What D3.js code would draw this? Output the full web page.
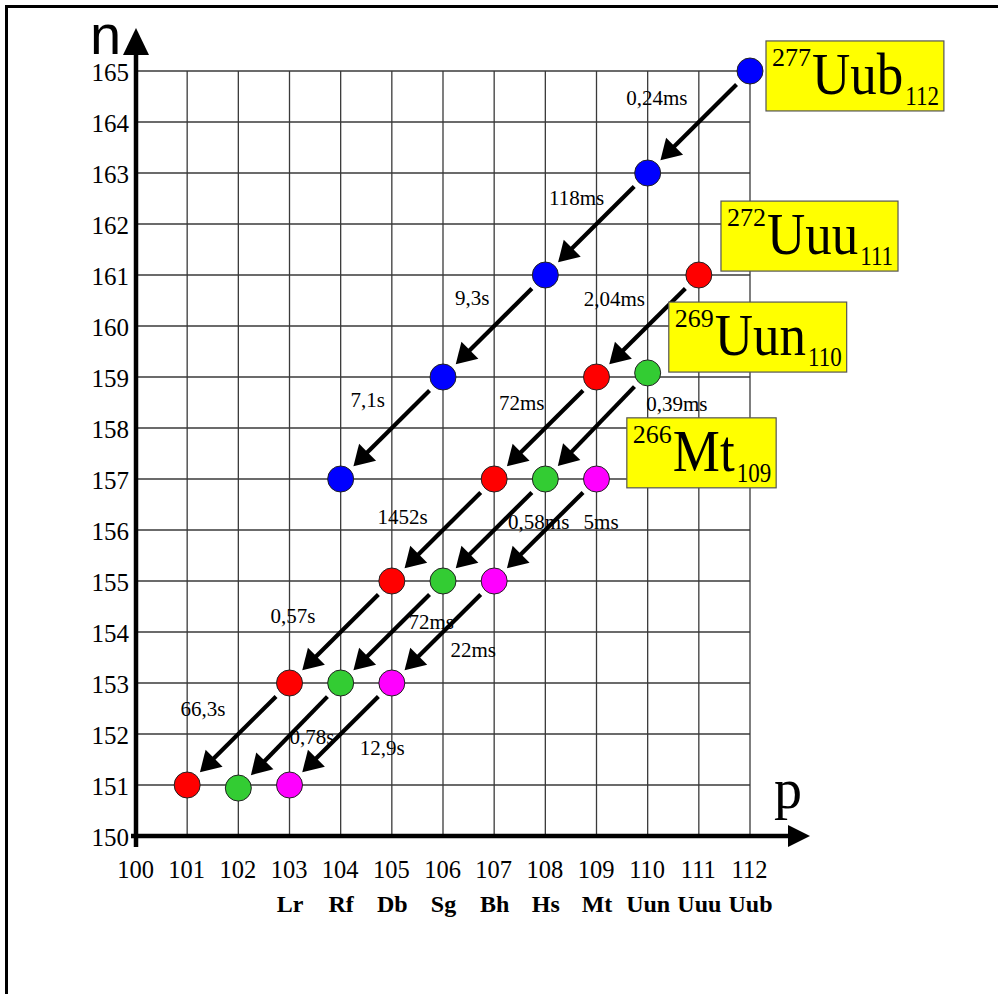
<!DOCTYPE html>
<html><head><meta charset="utf-8">
<script src="https://cdn.jsdelivr.net/npm/d3@7"></script>
<style>
html,body{margin:0;padding:0;background:#fff;}
svg{display:block;}
text{font-family:"Liberation Serif","Times New Roman",serif;fill:#000;}
</style></head>
<body>
<svg id="chart" width="998" height="994"></svg>
<script>
// ---- data ----
const pTicks = [100,101,102,103,104,105,106,107,108,109,110,111,112];
const nTicks = [150,151,152,153,154,155,156,157,158,159,160,161,162,163,164,165];
const elementSymbols = ["","","","Lr","Rf","Db","Sg","Bh","Hs","Mt","Uun","Uuu","Uub"];

// decay chains: proton number p, neutron number n
const uubP = [112,110,108,106,104];
const uubN = [165,163,161,159,157];
const uubTimes = ["0,24ms","118ms","9,3s","7,1s"];
const uubTimeP = [110.18,108.61,106.57,104.53];
const uubTimeN = [164.47,162.51,160.55,158.55];

const uuuP = [111,109,107,105,103,101];
const uuuN = [161,159,157,155,153,151];
const uuuTimes = ["2,04ms","72ms","1452s","0,57s","66,3s"];
const uuuTimeP = [109.35,107.54,105.21,103.07,101.31];
const uuuTimeN = [160.53,158.49,156.27,154.33,152.49];

const uunP = [110,108,106,104,102];
const uunN = [159.08,157,155,153,150.94];
const uunTimes = ["0,39ms","0,58ms","72ms","0,78s"];
const uunTimeP = [110.57,107.87,105.77,103.44];
const uunTimeN = [158.47,156.16,154.2,151.94];

const mtP = [109,107,105,103];
const mtN = [157,155,153,151];
const mtTimes = ["5ms","22ms","12,9s"];
const mtTimeP = [109.09,106.59,104.81];
const mtTimeN = [156.16,153.65,151.73];

// isotope labels
const isoMass = ["277","272","269","266"];
const isoSymbol = ["Uub","Uuu","Uun","Mt"];
const isoZ = ["112","111","110","109"];
const isoLabelP = [112.43,111.55,110.53,109.71];
const isoLabelN = [164.55,161.41,159.43,157.16];

const chainColors = ["#0000ff","#ff0000","#33cc33","#ff00ff"];

// ---- drawing ----
const SERIF = "'Liberation Serif','Times New Roman',serif";
const svg = d3.select("#chart");
const x = d3.scaleLinear().domain([100,112]).range([136,750]);
const y = d3.scaleLinear().domain([150,165]).range([836,71]);

// frame
svg.append("line").attr("x1",5).attr("x2",998).attr("y1",6.5).attr("y2",6.5)
  .attr("stroke","#000").attr("stroke-width",3);
svg.append("line").attr("x1",6.5).attr("x2",6.5).attr("y1",5).attr("y2",994)
  .attr("stroke","#000").attr("stroke-width",3);

// grid
const grid = svg.append("g").attr("stroke","#3a3a3a").attr("stroke-width",1.3);
grid.selectAll("line.v").data(pTicks.slice(1)).join("line")
  .attr("x1",d=>x(d)).attr("x2",d=>x(d)).attr("y1",y(150)).attr("y2",y(165));
grid.selectAll("line.h").data(nTicks.slice(1)).join("line")
  .attr("x1",x(100)).attr("x2",x(112)).attr("y1",d=>y(d)).attr("y2",d=>y(d));

// axes (labels)
const yAxis = d3.axisLeft(y).tickValues(nTicks).tickSize(0).tickPadding(7).tickFormat(d3.format("d"));
const gy = svg.append("g").attr("transform",`translate(${x(100)},0)`).call(yAxis)
  .attr("font-family",SERIF).attr("font-size",25);
gy.select(".domain").remove();
gy.selectAll("text").attr("dy","0.36em").attr("font-family",SERIF);

const xAxis = d3.axisBottom(x).tickValues(pTicks).tickSize(0).tickPadding(25).tickFormat(d3.format("d"));
const gx = svg.append("g").attr("transform",`translate(0,${y(150)})`).call(xAxis)
  .attr("font-family",SERIF).attr("font-size",24.5);
gx.select(".domain").remove();
gx.selectAll("text").attr("font-family",SERIF).attr("dx",-1);

const xAxis2 = d3.axisBottom(x).tickValues(pTicks).tickSize(0).tickPadding(59)
  .tickFormat((d,i)=>elementSymbols[i]);
const gx2 = svg.append("g").attr("transform",`translate(0,${y(150)})`).call(xAxis2)
  .attr("font-family",SERIF).attr("font-size",24);
gx2.select(".domain").remove();
gx2.selectAll("text").attr("font-weight","bold").attr("font-family",SERIF);

// thick axis lines with arrows
svg.append("line").attr("x1",x(100)).attr("x2",x(100)).attr("y1",y(150)+11).attr("y2",54)
  .attr("stroke","#000").attr("stroke-width",4.5);
svg.append("path").attr("d",`M${x(100)},28 L${x(100)-13},55 L${x(100)+13},55 Z`).attr("fill","#000");
svg.append("line").attr("x1",x(100)-5).attr("x2",790).attr("y1",y(150)).attr("y2",y(150))
  .attr("stroke","#000").attr("stroke-width",4.5);
svg.append("path").attr("d",`M810,${y(150)} L788,${y(150)-11} L788,${y(150)+11} Z`).attr("fill","#000");

// axis titles
svg.append("text").attr("x",90).attr("y",54).attr("font-size",56)
  .style("font-family","'Liberation Sans',Arial,sans-serif").text("n");
svg.append("text").attr("x",774).attr("y",808).attr("font-size",56).text("p");

// chains
const chains = [
  {p:uubP,n:uubN,times:uubTimes,tp:uubTimeP,tn:uubTimeN},
  {p:uuuP,n:uuuN,times:uuuTimes,tp:uuuTimeP,tn:uuuTimeN},
  {p:uunP,n:uunN,times:uunTimes,tp:uunTimeP,tn:uunTimeN},
  {p:mtP,n:mtN,times:mtTimes,tp:mtTimeP,tn:mtTimeN}
];

const arrowG = svg.append("g");
const timeG = svg.append("g");
const dotG = svg.append("g");

chains.forEach((c,ci)=>{
  for(let i=0;i<c.p.length-1;i++){
    const sx=x(c.p[i]), sy=y(c.n[i]), tx=x(c.p[i+1]), ty=y(c.n[i+1]);
    const dx=tx-sx, dy=ty-sy, L=Math.hypot(dx,dy);
    const ux=dx/L, uy=dy/L, px=-uy, py=ux;
    const ax=sx+ux*19, ay=sy+uy*19;
    const tipx=tx-ux*18, tipy=ty-uy*18;
    const bx=tipx-ux*20, by=tipy-uy*20;
    arrowG.append("line").attr("x1",ax).attr("y1",ay).attr("x2",bx+ux*2).attr("y2",by+uy*2)
      .attr("stroke","#000").attr("stroke-width",4.2);
    arrowG.append("path")
      .attr("d",`M${tipx},${tipy} L${bx+px*12},${by+py*12} L${bx-px*12},${by-py*12} Z`)
      .attr("fill","#000");
  }
  c.times.forEach((t,i)=>{
    timeG.append("text").attr("x",x(c.tp[i])).attr("y",y(c.tn[i])).attr("dy","0.35em")
      .attr("text-anchor","middle").attr("font-size",21).text(t);
  });
  dotG.selectAll(null).data(c.p.map((p,i)=>[p,c.n[i]])).join("circle")
    .attr("cx",d=>x(d[0])).attr("cy",d=>y(d[1])).attr("r",13)
    .attr("fill",chainColors[ci]).attr("stroke","#222").attr("stroke-width",1);
});

// isotope labels in yellow boxes
isoSymbol.forEach((s,i)=>{
  const g = svg.append("g");
  const bx = x(isoLabelP[i]), by = y(isoLabelN[i]);
  const rect = g.append("rect");
  const sup = g.append("text").attr("font-size",26)
    .attr("transform",`translate(${bx},${by-28})`).text(isoMass[i]);
  const w1 = sup.node().getComputedTextLength();
  const main = g.append("text").attr("font-size",53)
    .attr("transform",`translate(${bx+w1+1},${by}) scale(1,1.1)`).text(s);
  const w2 = main.node().getComputedTextLength();
  const sub = g.append("text").attr("font-size",23)
    .attr("transform",`translate(${bx+w1+w2+3},${by+11}) scale(1,1.15)`).text(isoZ[i]);
  const w3 = sub.node().getComputedTextLength();
  const w = w1+w2+w3+4;
  rect.attr("x",bx-6).attr("y",by-53).attr("width",w+10).attr("height",70)
    .attr("fill","#ffff00").attr("stroke","#555").attr("stroke-width",1.2);
});
</script>
</body></html>
